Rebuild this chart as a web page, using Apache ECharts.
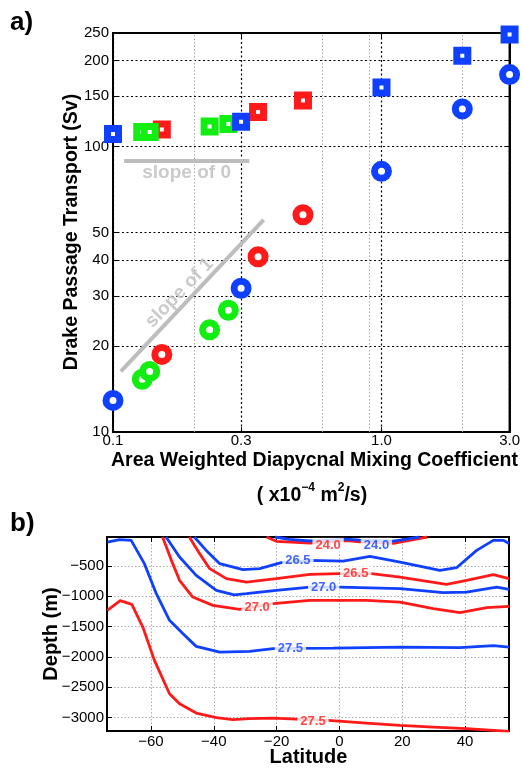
<!DOCTYPE html>
<html>
<head>
<meta charset="utf-8">
<script src="https://cdn.jsdelivr.net/npm/echarts@6/dist/echarts.min.js"></script>
<style>
html, body {margin: 0; padding: 0; background: #fff;}
#myChart {width: 523px; height: 768px;}
</style>
</head>
<body>
<div id="myChart"></div>
<script>
// a) 混合系数 - 德雷克海峡输运量
var mixBlue = [0.1, 0.3, 1.0, 2.0, 3.0];
var sqBlue = [110.7, 122.3, 161, 208, 247];
var circBlue = [12.9, 31.9, 81.9, 135.5, 178.7];
var mixRed = [0.152, 0.347, 0.51];
var sqRed = [114.7, 132.2, 144.9];
var circRed = [18.7, 41.1, 57.7];
var mixGreen = [0.1285, 0.137, 0.229, 0.269];
var sqGreen = [112.5, 112.5, 117.7, 120.0];
var circGreen = [15.3, 16.3, 22.8, 26.7];
var slope0X = [0.11, 0.322];
var slope0Y = [89, 89];
var slope1X = [0.107, 0.364];
var slope1Y = [16.3, 55.4];
var noteText = ['slope of 0', 'slope of 1'];
var noteX = [0.188, 0.177];
var noteY = [81, 30.7];
var xTicksA = [0.1, 0.3, 1.0, 3.0];
var xMinorA = [0.2, 0.6, 0.9, 2.0];
var yTicksA = [10, 20, 30, 40, 50, 100, 150, 200, 250];

// b) 等密度线 (纬度, 深度)
var latTicks = [-60, -40, -20, 0, 20, 40];
var depthTicks = [-3000, -2500, -2000, -1500, -1000, -500];
var red240Lat = [-23.2, -20.1, -9.4, 2.3, 6.5, 17.2, 21.4, 28];
var red240Dep = [-20, -91, -119, -80, -100, -125, -85, -20];
var blue240Lat = [-20.5, -16, -9.4, 2.3, 6.5, 17.2, 21.4, 25.5];
var blue240Dep = [-20, -58, -86, -55, -70, -90, -55, -20];
var blue265Lat = [-46.2, -42.4, -38.1, -30.7, -25.4, -18.5, -9.4, 1.2, 9.7, 19.3, 32, 37.3, 43.7, 49, 52.2, 54];
var blue265Dep = [-20, -241, -460, -560, -543, -444, -406, -417, -340, -434, -571, -527, -241, -75, -75, -130];
var red265Lat = [-47.8, -44.5, -41.3, -36.0, -29.6, -20.1, -9.4, 0.1, 10.2, 19.3, 34.1, 40.5, 49, 54];
var red265Dep = [-20, -295, -543, -708, -764, -708, -637, -626, -626, -682, -802, -736, -643, -708];
var blue270Lat = [-55.2, -50.9, -45.6, -39.2, -33.5, -29.6, -20.1, -9.4, 0.1, 19.3, 33.1, 40.5, 50.1, 54];
var blue270Dep = [-20, -351, -654, -902, -975, -956, -902, -847, -847, -874, -940, -930, -847, -885];
var red270Lat = [-56.3, -53.5, -50.9, -46.7, -40.3, -31.8, -21.1, -9.4, 0.1, 8.6, 19.3, 29.9, 38.4, 46.9, 54];
var red270Dep = [-20, -406, -736, -1012, -1149, -1215, -1121, -1067, -1067, -1067, -1095, -1204, -1270, -1187, -1166];
var blue275Lat = [-73.9, -70.0, -66.3, -62.1, -58.3, -54.1, -49.8, -45.6, -38.1, -28.6, -21.1, -12, -2.0, 19.3, 38.4, 49.0, 54];
var blue275Dep = [-103, -64, -75, -460, -956, -1397, -1617, -1827, -1921, -1909, -1865, -1860, -1855, -1838, -1849, -1815, -1838];
var red275Lat = [-73.9, -69.8, -66.1, -62.6, -58.9, -54.1, -50.9, -45.6, -39.2, -33.9, -28.6, -21.1, -13.7, -3.6, 8.6, 19.3, 29.9, 40.5, 54];
var red275Dep = [-1232, -1072, -1133, -1508, -2058, -2609, -2774, -2929, -3005, -3038, -3021, -3012, -3028, -3050, -3094, -3132, -3160, -3187, -3231];
var labelText = ['24.0', '24.0', '26.5', '26.5', '27.0', '27.0', '27.5', '27.5'];
var labelSet = ['red', 'blue', 'blue', 'red', 'blue', 'red', 'blue', 'red'];
var labelLat = [-3.6, 11.8, -13.2, 5.2, -5.0, -26.2, -15.6, -8.4];
var labelDep = [-158, -158, -406, -626, -847, -1187, -1865, -3066];

var FONT = '"Liberation Sans", Arial, Helvetica, sans-serif';
var BLUE = '#1040ff';
var RED = '#ff1a1a';
var GREEN = '#12ee12';
var GRAY = '#bdbdbd';

function pairs(xs, ys) {
    return xs.map(function (x, i) { return [x, ys[i]]; });
}

function markerSeries(xs, ys, shape, color) {
    var isRect = shape === 'rect';
    return {
        type: 'scatter',
        xAxisIndex: 0,
        yAxisIndex: 0,
        symbol: shape,
        symbolSize: isRect ? 11 : 14,
        data: pairs(xs, ys),
        itemStyle: {color: '#fff', borderColor: color, borderWidth: 7, opacity: 1},
        z: 5
    };
}

function contourSeries(lats, deps, color) {
    return {
        type: 'line',
        xAxisIndex: 2,
        yAxisIndex: 2,
        showSymbol: false,
        symbol: 'none',
        clip: true,
        data: pairs(lats, deps),
        lineStyle: {color: color, width: 2.8},
        z: 3
    };
}

function tickAxis(gridIndex, type, pos, min, max, ticks, extra) {
    var axis = {
        gridIndex: gridIndex,
        type: type,
        position: pos,
        min: min,
        max: max,
        axisLine: {show: true, onZero: false, lineStyle: {color: '#000', width: 2}},
        axisTick: {show: true, inside: true, length: 5, customValues: ticks, lineStyle: {color: '#000', width: 1}},
        axisLabel: {show: false},
        splitLine: {show: false}
    };
    if (type === 'log') axis.logBase = 10;
    for (var k in extra) axis[k] = extra[k];
    return axis;
}

var tickFont = {fontSize: 15, color: '#000', fontFamily: FONT};
function minusFmt(v) {
    v = Math.round(v);
    return v < 0 ? '\u2212' + Math.abs(v) : String(v);
}

var myChart = echarts.init(document.getElementById('myChart'));
var option = {
    animation: false,
    backgroundColor: '#fff',
    grid: [
        {left: 113, top: 33, right: 12, bottom: 336, show: true, borderColor: '#000', borderWidth: 2},
        {left: 107, top: 537, right: 14, bottom: 37, show: true, borderColor: '#000', borderWidth: 2}
    ],
    xAxis: [
        tickAxis(0, 'log', 'bottom', 0.1, 3, xTicksA, {
            axisLabel: Object.assign({show: true, customValues: xTicksA, margin: 1,
                formatter: function (v) { return Number(v).toFixed(1); }}, tickFont),
            splitLine: {show: true, lineStyle: {color: '#000', width: 1.2, type: [2, 2.5]}}
        }),
        tickAxis(0, 'log', 'top', 0.1, 3, xTicksA, {}),
        tickAxis(1, 'value', 'bottom', -74, 54, latTicks, {
            axisLabel: Object.assign({show: true, customValues: latTicks, margin: 3, formatter: minusFmt}, tickFont),
            splitLine: {show: true, lineStyle: {color: '#aaa', width: 1, type: [1.5, 2]}}
        }),
        tickAxis(1, 'value', 'top', -74, 54, latTicks, {})
    ],
    yAxis: [
        tickAxis(0, 'log', 'left', 10, 250, yTicksA, {
            axisLabel: Object.assign({show: true, customValues: yTicksA, margin: 4,
                formatter: function (v) { return String(Math.round(v)); }}, tickFont),
            splitLine: {show: true, lineStyle: {color: '#000', width: 1.2, type: [2, 2.5]}}
        }),
        tickAxis(0, 'log', 'right', 10, 250, yTicksA, {}),
        tickAxis(1, 'value', 'left', -3225, -20, depthTicks, {
            axisLabel: Object.assign({show: true, customValues: depthTicks, margin: 3, formatter: minusFmt}, tickFont),
            splitLine: {show: true, lineStyle: {color: '#aaa', width: 1, type: [1.5, 2]}}
        }),
        tickAxis(1, 'value', 'right', -3225, -20, depthTicks, {})
    ],
    series: [
        // 参考斜率线
        {type: 'line', xAxisIndex: 0, yAxisIndex: 0, symbol: 'none', data: pairs(slope0X, slope0Y),
            lineStyle: {color: GRAY, width: 4}, z: 2},
        {type: 'line', xAxisIndex: 0, yAxisIndex: 0, symbol: 'none', data: pairs(slope1X, slope1Y),
            lineStyle: {color: GRAY, width: 4}, z: 2},
        {
            type: 'scatter', xAxisIndex: 0, yAxisIndex: 0, symbolSize: 1,
            itemStyle: {color: 'transparent'},
            data: noteText.map(function (t, i) {
                return {value: [noteX[i], noteY[i]], label: {rotate: i === 1 ? 46 : 0}};
            }),
            label: {show: true, position: 'inside', color: GRAY, fontWeight: 'bold', fontSize: 19, fontFamily: FONT,
                formatter: function (p) { return noteText[p.dataIndex]; }},
            z: 4
        },
        markerSeries(mixRed, sqRed, 'rect', RED),
        markerSeries(mixRed, circRed, 'circle', RED),
        markerSeries(mixGreen, sqGreen, 'rect', GREEN),
        markerSeries(mixGreen, circGreen, 'circle', GREEN),
        markerSeries(mixBlue, sqBlue, 'rect', BLUE),
        markerSeries(mixBlue, circBlue, 'circle', BLUE),
        // 等密度线
        contourSeries(red275Lat, red275Dep, RED),
        contourSeries(blue275Lat, blue275Dep, BLUE),
        contourSeries(red270Lat, red270Dep, RED),
        contourSeries(blue270Lat, blue270Dep, BLUE),
        contourSeries(red265Lat, red265Dep, RED),
        contourSeries(blue265Lat, blue265Dep, BLUE),
        contourSeries(red240Lat, red240Dep, RED),
        contourSeries(blue240Lat, blue240Dep, BLUE),
        {
            type: 'scatter', xAxisIndex: 2, yAxisIndex: 2, symbolSize: 1,
            itemStyle: {color: 'transparent'},
            data: labelText.map(function (t, i) {
                return {value: [labelLat[i], labelDep[i]], label: {color: labelSet[i] === 'red' ? RED : BLUE}};
            }),
            label: {show: true, position: 'inside', fontWeight: 'bold', fontSize: 13, fontFamily: FONT,
                backgroundColor: '#fff', padding: [1, 3],
                formatter: function (p) { return labelText[p.dataIndex]; }},
            z: 10
        }
    ],
    graphic: [
        {type: 'text', x: 10, y: 23, style: {text: 'a)', font: 'bold 26px ' + FONT, fill: '#000', verticalAlign: 'middle'}},
        {type: 'text', x: 10, y: 524, style: {text: 'b)', font: 'bold 26px ' + FONT, fill: '#000', verticalAlign: 'middle'}},
        {type: 'text', x: 71.5, y: 232, rotation: Math.PI / 2,
            style: {text: 'Drake Passage Transport (Sv)', font: 'bold 19.5px ' + FONT, fill: '#000', align: 'center', verticalAlign: 'middle'}},
        {type: 'text', x: 314.5, y: 461,
            style: {text: 'Area Weighted Diapycnal Mixing Coefficient', font: 'bold 19.5px ' + FONT, fill: '#000', align: 'center', verticalAlign: 'middle'}},
        {type: 'text', x: 312, y: 494,
            style: {
                text: '{a|( x10}{s|\u22124}{a| m}{s|2}{a|/s)}',
                align: 'center', verticalAlign: 'middle', fill: '#000',
                rich: {
                    a: {fontSize: 19.5, fontWeight: 'bold', fontFamily: FONT, lineHeight: 24, verticalAlign: 'bottom'},
                    s: {fontSize: 12, fontWeight: 'bold', fontFamily: FONT, verticalAlign: 'top'}
                }
            }},
        {type: 'text', x: 51.5, y: 634, rotation: Math.PI / 2,
            style: {text: 'Depth (m)', font: 'bold 20px ' + FONT, fill: '#000', align: 'center', verticalAlign: 'middle'}},
        {type: 'text', x: 308.5, y: 757,
            style: {text: 'Latitude', font: 'bold 20px ' + FONT, fill: '#000', align: 'center', verticalAlign: 'middle'}}
    ]
};
myChart.setOption(option);

// 次网格线: 用坐标轴换算位置后补画
var minorLines = xMinorA.map(function (v) {
    var p0 = myChart.convertToPixel({gridIndex: 0}, [v, yTicksA[0]]);
    var p1 = myChart.convertToPixel({gridIndex: 0}, [v, yTicksA[yTicksA.length - 1]]);
    var x = Math.round(p0[0]) + 0.5;
    return {
        type: 'line', silent: true, z: 1,
        shape: {x1: x, y1: p0[1], x2: x, y2: p1[1]},
        style: {stroke: '#a8a8a8', lineWidth: 1, lineDash: [1.5, 2]}
    };
});
myChart.setOption({graphic: option.graphic.concat(minorLines)});
window.onresize = myChart.resize;
</script>
</body>
</html>
